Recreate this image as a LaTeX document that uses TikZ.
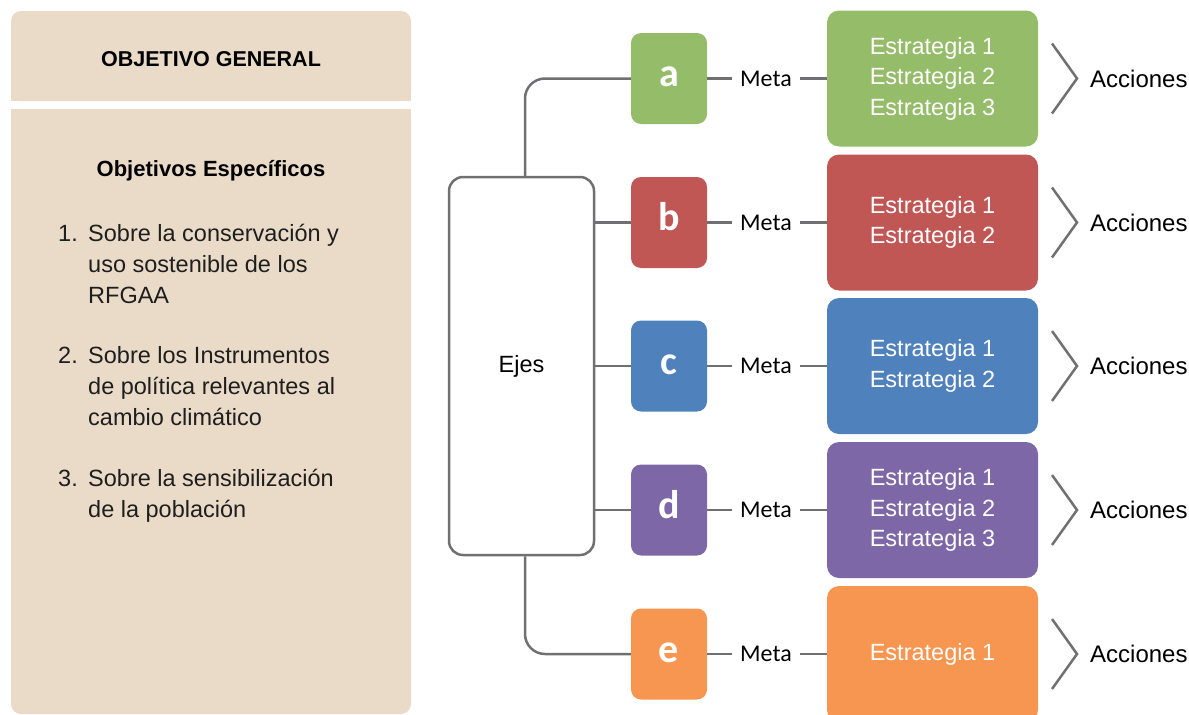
\documentclass[tikz,border=0pt]{standalone}
\usepackage{fontspec}
\setmainfont{Liberation Sans}
\newfontfamily\metafont{Carlito}
\usetikzlibrary{positioning}

\definecolor{beige}{HTML}{EADBC8}
\definecolor{linegray}{HTML}{707072}
\definecolor{cgreen}{HTML}{95BC69}
\definecolor{cred}{HTML}{C05755}
\definecolor{cblue}{HTML}{4F81BD}
\definecolor{cpurple}{HTML}{7E67A6}
\definecolor{corange}{HTML}{F79650}
\definecolor{ink}{HTML}{1E1E1E}

\begin{document}
\begin{tikzpicture}[x=1pt, y=-1pt]
  \tikzset{
    title/.style={font=\fontsize{21.5}{26}\selectfont\bfseries, anchor=base, inner sep=0pt},
    num/.style={font=\fontsize{23.5}{31}\selectfont, text=ink, anchor=north west, inner sep=0pt},
    objtext/.style={font=\fontsize{23.5}{31}\selectfont, text=ink, align=left, anchor=north west, inner sep=0pt},
    letter/.style={font=\metafont\bfseries\fontsize{40}{40}\selectfont, text=white, minimum width=76pt,
                   minimum height=91pt, rounded corners=10pt, text height=16pt, text depth=0pt, inner sep=0pt},
    meta/.style={font=\metafont\fontsize{24}{24}\selectfont, text height=15.5pt, text depth=0pt, inner xsep=8pt},
    strat/.style={font=\fontsize{23.5}{30.5}\selectfont, text=white, align=left, minimum width=211pt,
                  minimum height=136pt, rounded corners=12pt, inner sep=0pt},
    ejesbox/.style={draw=linegray, line width=2.5pt, rounded corners=14pt, minimum width=145pt,
                    minimum height=378pt, font=\fontsize{23.5}{28}\selectfont},
    accion/.style={font=\fontsize{24}{28}\selectfont, anchor=west, inner sep=0pt},
    conn/.style={draw=linegray, line width=2.5pt},
    chev/.style={draw=linegray, line width=2.5pt},
  }
  \useasboundingbox (0,0) rectangle (1189,715);

  \fill[beige, rounded corners=10pt] (11,11) rectangle (411,101);
  \fill[beige] (11,60) rectangle (411,101);
  \fill[beige, rounded corners=10pt] (11,109) rectangle (411,714);
  \fill[beige] (11,109) rectangle (411,160);

  \node[title] (general) at (211,66) {OBJETIVO GENERAL};
  \node[title, font=\fontsize{22}{26}\selectfont\bfseries] (especificos) at (211,176) {Objetivos Específicos};

  \node[num] (n1) at (58,219.8) {\strut 1.};
  \node[objtext] (o1) at ([xshift=10pt]n1.north east) {\strut Sobre la conservación y\\uso sostenible de los\\RFGAA};
  \node[num] (n2) at (58,341.3) {\strut 2.};
  \node[objtext] (o2) at ([xshift=10pt]n2.north east) {\strut Sobre los Instrumentos\\de política relevantes al\\cambio climático};
  \node[num] (n3) at (58,464.3) {\strut 3.};
  \node[objtext] (o3) at ([xshift=10pt]n3.north east) {\strut Sobre la sensibilización\\de la población};

  \node[ejesbox] (ejes) at (521.5,366) {Ejes};

  \foreach \n/\y/\col/\txt in {a/78.5/cgreen/{Estrategia 1\\Estrategia 2\\Estrategia 3},
                               b/222.5/cred/{Estrategia 1\\Estrategia 2},
                               c/366/cblue/{Estrategia 1\\Estrategia 2},
                               d/510/cpurple/{Estrategia 1\\Estrategia 2\\Estrategia 3},
                               e/654/corange/{Estrategia 1}} {
    \node[letter, fill=\col] (l\n) at (669,\y) {\n};
    \node[meta] (m\n) at (766,\y) {Meta};
    \node[strat, fill=\col] (s\n) at (932.5,\y) {\txt};
    \node[accion] (ac\n) at (1090,\y) {Acciones};
    \draw[conn] (l\n) -- (m\n);
    \draw[conn] (m\n) -- (s\n);
    \draw[chev] (1052,\y-35) -- (1077,\y) -- (1052,\y+35);
  }

  \draw[conn, rounded corners=20pt] ([xshift=3.5pt]ejes.north) |- (la);
  \foreach \n in {b,c,d}
    \draw[conn] (ejes.east |- l\n) -- (l\n);
  \draw[conn, rounded corners=20pt] ([xshift=3.5pt]ejes.south) |- (le);

\end{tikzpicture}
\end{document}
